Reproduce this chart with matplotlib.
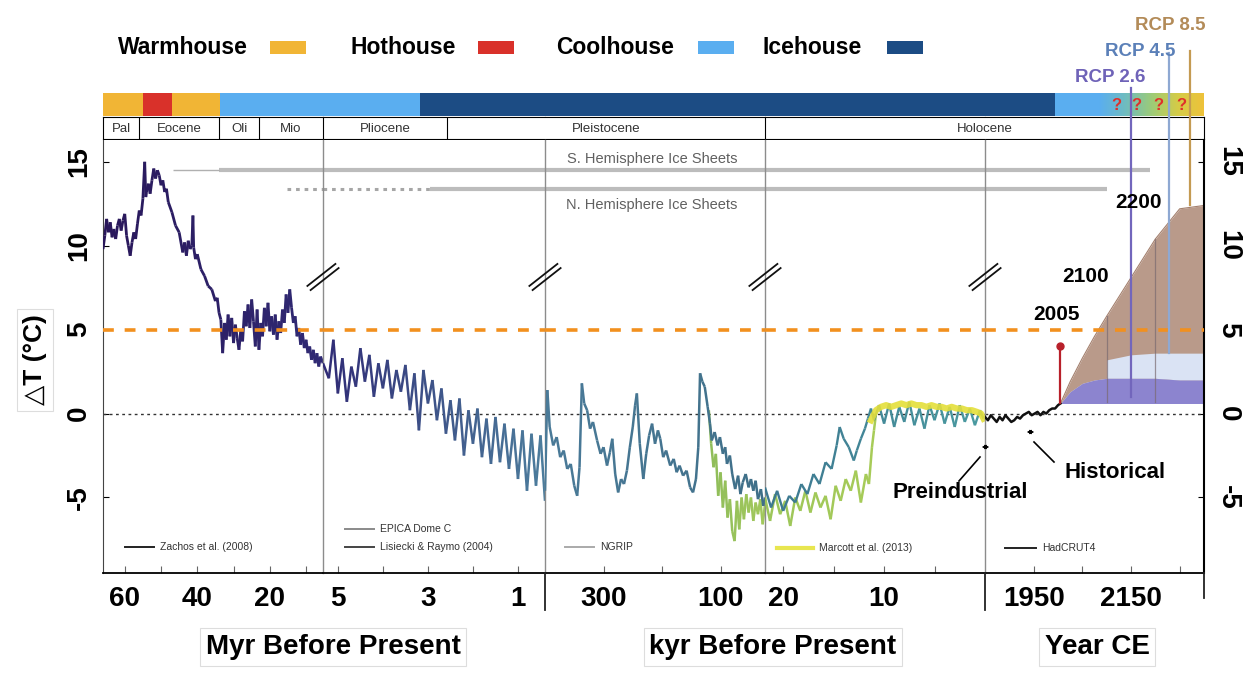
import numpy as np
import matplotlib
matplotlib.use('Agg')
import matplotlib.pyplot as plt
from matplotlib.collections import LineCollection
from matplotlib.colors import LinearSegmentedColormap
from matplotlib.lines import Line2D

plt.rcParams['font.family'] = ['Liberation Sans', 'DejaVu Sans']

# ---- data ----
# segment 1: Zachos et al. (2008), Myr before present
zachos_age = [66.0, 65.5, 65.0, 64.5, 64.0, 63.5, 63.0, 62.5, 62.0, 61.5,
              61.0, 60.5, 60.0, 59.5, 59.0, 58.5, 58.0, 57.5, 57.0, 56.5,
              56.0, 55.5, 55.0, 54.5, 54.2, 54.0, 53.5, 53.0, 52.5, 52.0,
              51.5, 51.0, 50.5, 50.0, 49.5, 49.0, 48.5, 48.0, 47.0, 46.0,
              45.0, 44.0, 43.5, 43.0, 42.5, 42.0, 41.5, 41.2, 41.0, 40.5,
              40.0, 39.0, 38.0, 37.0, 36.0, 35.0, 34.5, 34.0, 33.5, 33.0,
              32.5, 32.0, 31.5, 31.0, 30.5, 30.0, 29.5, 29.0, 28.5, 28.0,
              27.5, 27.0, 26.5, 26.0, 25.5, 25.0, 24.5, 24.0, 23.5, 23.0,
              22.5, 22.0, 21.5, 21.0, 20.5, 20.0, 19.5, 19.0, 18.5, 18.0,
              17.5, 17.0, 16.5, 16.0, 15.5, 15.0, 14.5, 14.0, 13.5, 13.0,
              12.5, 12.0, 11.5, 11.0, 10.5, 10.0, 9.5, 9.0, 8.5, 8.0,
              7.5, 7.0, 6.5, 6.0, 5.33]
zachos_temp = [9.8, 10.6, 11.6, 10.8, 11.4, 10.5, 11.0, 10.4, 11.2, 11.6,
               10.9, 11.5, 11.9, 10.6, 10.0, 9.4, 10.2, 10.8, 10.4, 11.3,
               12.1, 11.8, 12.8, 15.0, 12.9, 13.2, 13.7, 13.1, 13.9, 14.6,
               14.0, 14.5, 14.2, 13.6, 13.9, 13.2, 13.4, 12.6, 12.0, 11.2,
               10.8, 9.6, 10.2, 9.4, 10.3, 9.8, 10.0, 11.8, 9.9, 9.2,
               9.5, 8.6, 8.2, 7.6, 7.4, 6.7, 6.9, 6.0, 5.6, 3.6,
               5.4, 4.4, 5.9, 4.6, 5.7, 4.2, 5.3, 4.5, 3.8, 5.0,
               4.3, 6.1, 5.2, 6.5, 5.1, 6.8, 5.5, 4.0, 6.2, 3.8,
               5.4, 4.6, 6.3, 5.2, 6.6, 4.9, 5.8, 4.7, 5.9, 4.4,
               5.5, 4.8, 6.2, 5.4, 7.1, 6.0, 7.4, 6.3, 5.4, 5.8,
               4.6, 5.1, 4.1, 4.8, 3.9, 4.4, 3.6, 4.0, 3.2, 3.8,
               3.0, 3.6, 2.8, 3.4, 3.0]

# segment 2: Lisiecki & Raymo (2004), Myr before present
lr04_myr = [5.33, 5.2, 5.1, 5.0, 4.9, 4.8, 4.7, 4.6, 4.5, 4.4,
            4.3, 4.2, 4.1, 4.0, 3.9, 3.8, 3.7, 3.6, 3.5, 3.4,
            3.3, 3.2, 3.1, 3.0, 2.9, 2.8, 2.7, 2.6, 2.5, 2.4,
            2.3, 2.2, 2.1, 2.0, 1.9, 1.8, 1.7, 1.6, 1.5, 1.4,
            1.3, 1.2, 1.1, 1.0, 0.9, 0.8, 0.7, 0.6, 0.5, 0.4]
lr04_myr_temp = [3.0, 2.1, 4.4, 1.2, 3.3, 0.7, 2.8, 1.6, 3.9, 1.9,
                 3.5, 1.0, 3.0, 1.5, 3.2, 0.9, 2.6, 1.3, 2.9, 0.2,
                 2.4, -1.0, 2.6, 0.6, 2.0, -0.4, 1.5, -1.2, 0.8, -1.6,
                 0.9, -2.5, 0.2, -1.8, 0.3, -2.6, -0.3, -3.0, -0.2, -2.9,
                 -0.6, -3.3, -0.9, -3.9, -1.0, -4.6, -1.2, -4.3, -1.3, -5.2]

# segment 3: kyr before present
lr04_kyr = [400, 396, 392, 386, 380, 374, 368, 362, 356, 350,
            345, 341, 337, 333, 328, 323, 318, 311, 305, 300,
            294, 289, 285, 280, 275, 270, 265, 260, 255, 250,
            246, 243, 238, 232, 227, 222, 217, 212, 207, 203,
            198, 193, 186, 180, 175, 170, 164, 158, 152, 147,
            142, 138, 135, 131, 127, 122, 118, 115, 110, 105,
            101, 96, 92, 89, 84, 80, 75, 70, 66, 62,
            57, 52, 48, 44, 40, 36, 31, 27, 24]
lr04_kyr_temp = [-4.6, 1.4, -0.8, -1.9, -1.4, -2.6, -2.2, -3.3, -3.0, -4.3,
                 -4.9, -3.2, 1.8, 0.6, 0.2, -0.9, -0.5, -1.6, -2.4, -2.0,
                 -3.1, -2.3, -1.5, -3.6, -4.7, -3.9, -4.2, -3.4, -2.0, -0.8,
                 0.5, 1.2, -1.8, -3.9, -2.4, -1.3, -0.6, -1.8, -1.0, -1.5,
                 -2.6, -2.2, -3.1, -2.7, -3.5, -3.1, -3.7, -3.4, -4.4, -4.7,
                 -3.9, -2.0, 2.4, 1.9, 1.6, 0.4, -0.6, -1.6, -1.1, -1.9,
                 -1.4, -2.4, -2.0, -3.0, -2.5, -3.6, -4.5, -3.7, -4.8, -4.1,
                 -3.6, -4.4, -3.9, -4.6, -4.0, -5.1, -4.5, -5.5, -5.0]
epica_kyr = [120, 116, 112, 108, 104, 100, 96, 92, 88, 84,
             80, 76, 72, 68, 64, 60, 56, 52, 48, 44,
             40, 36, 32, 28, 24]
epica_temp = [0.2, -1.8, -3.2, -2.4, -4.9, -3.5, -5.6, -4.0, -6.2, -5.1,
              -7.0, -7.6, -5.2, -6.9, -5.0, -6.3, -4.8, -5.9, -5.0, -6.4,
              -5.3, -6.0, -5.1, -6.6, -5.4]

# segment 4: last 22 kyr
deglac_kyr = [21.8, 21.3, 20.8, 20.3, 19.8, 19.3, 18.8, 18.3, 17.8, 17.3,
              16.8, 16.3, 15.8, 15.3, 14.8, 14.3, 13.8, 13.3, 12.8, 12.3,
              11.8, 11.5, 11.2, 11.0, 10.8]
deglac_temp = [-5.0, -6.4, -4.8, -6.0, -5.2, -6.7, -5.0, -5.8, -4.6, -5.9,
               -4.7, -5.6, -4.9, -6.3, -4.3, -5.2, -3.9, -4.6, -3.4, -5.3,
               -3.6, -4.2, -2.0, -1.0, 0.0]
ngrip_kyr = [21.8, 21.2, 20.6, 20.0, 19.4, 18.8, 18.2, 17.6, 17.0, 16.4,
             15.8, 15.2, 14.7, 14.4, 14.0, 13.5, 13.0, 12.7, 12.3, 11.9,
             11.6, 11.3, 11.0, 10.5, 10.0, 9.5, 9.0, 8.5, 8.0, 7.5,
             7.0, 6.5, 6.0, 5.5, 5.0, 4.5, 4.0, 3.5, 3.0, 2.5,
             2.0, 1.5, 1.0, 0.5, 0.15]
ngrip_temp = [-4.4, -5.6, -4.6, -5.8, -4.9, -5.3, -4.2, -4.8, -3.6, -4.2,
              -2.9, -3.3, -1.9, -0.8, -1.5, -2.0, -2.8, -2.2, -1.5, -0.9,
              -0.3, 0.3, -0.4, 0.5, -0.6, 0.6, -0.8, 0.4, -0.5, 0.7,
              -0.7, 0.3, -0.9, 0.5, -0.4, 0.6, -0.6, 0.4, -0.8, 0.5,
              -0.5, 0.3, -0.7, 0.2, -0.3]
marcott_kyr = [11.3, 10.8, 10.3, 9.8, 9.3, 8.8, 8.3, 7.8, 7.3, 6.8,
               6.3, 5.8, 5.3, 4.8, 4.3, 3.8, 3.3, 2.8, 2.3, 1.8,
               1.3, 0.8, 0.4, 0.15]
marcott_temp = [-0.4, 0.2, 0.4, 0.5, 0.4, 0.5, 0.6, 0.5, 0.6, 0.5,
                0.5, 0.4, 0.5, 0.4, 0.4, 0.3, 0.4, 0.3, 0.3, 0.2,
                0.2, 0.1, 0.0, -0.3]

# segment 5: year CE
hadcrut_year = [1850, 1856, 1862, 1868, 1874, 1880, 1886, 1892, 1898, 1904,
                1910, 1916, 1922, 1928, 1934, 1940, 1946, 1952, 1958, 1964,
                1970, 1976, 1982, 1988, 1994, 2000, 2005]
hadcrut_temp = [-0.2, -0.4, -0.1, -0.3, -0.5, -0.2, -0.4, -0.1, -0.3, -0.5,
                -0.4, -0.2, -0.3, -0.1, 0.0, 0.1, -0.1, 0.0, 0.1, -0.1,
                0.1, 0.0, 0.2, 0.3, 0.3, 0.5, 0.6]
proj_year = [2005, 2025, 2050, 2075, 2100, 2150, 2200, 2250, 2300]
rcp85_hi = [0.6, 1.9, 3.3, 4.6, 5.8, 8.1, 10.4, 12.2, 12.4]
rcp26_hi = [0.6, 1.3, 1.8, 2.0, 2.1, 2.1, 2.1, 2.0, 2.0]
rcp26_lo = [0.6, 0.6, 0.6, 0.6, 0.6, 0.6, 0.6, 0.6, 0.6]
rcp45_year = [2100, 2150, 2200, 2250, 2300]
rcp45_hi = [3.2, 3.5, 3.6, 3.6, 3.6]
rcp45_lo = [2.1, 2.1, 2.1, 2.0, 2.0]
rcp_names = ['RCP 2.6', 'RCP 4.5', 'RCP 8.5']
rcp_mark_year = [2150, 2229, 2272]
rcp_mark_base = [1.0, 3.6, 12.4]
fan_mark_year = [2100, 2200]
marker_2005 = 4.0

# climate states (segment index, value) and epochs
state_names = ['Warmhouse', 'Hothouse', 'Warmhouse', 'Coolhouse', 'Icehouse', 'Coolhouse']
state_from = [(0, 66.0), (0, 55.0), (0, 47.0), (0, 33.7), (1, 3.17), (4, 1993)]
state_to = [(0, 55.0), (0, 47.0), (0, 33.7), (1, 3.17), (4, 1993), (4, 2085)]
question_years = [2119, 2160, 2207, 2254]
epoch_names = ['Pal', 'Eocene', 'Oli', 'Mio', 'Pliocene', 'Pleistocene', 'Holocene']
epoch_from = [(0, 66.0), (0, 56.0), (0, 33.9), (0, 23.0), (1, 5.33), (1, 2.58), (3, 21.8)]
epoch_to = [(0, 56.0), (0, 33.9), (0, 23.0), (1, 5.33), (1, 2.58), (3, 21.8), (4, 2300)]
ice_s = [((0, 46.7), (0, 34.0)), ((0, 34.0), (4, 2190))]
ice_n = [((0, 15.2), (1, 2.95)), ((1, 2.95), (4, 2100))]

seg_lims = [(66.0, 5.33), (5.33, 0.4), (400.0, 24.0), (21.8, 0.0), (1850.0, 2300.0)]
seg_ticks = [[60, 50, 40, 30, 20, 10], [5, 4, 3, 2, 1], [300, 200, 100], [20, 15, 10, 5],
             [1950, 2050, 2150, 2250]]
seg_ticklabels = [['60', '', '40', '', '20', ''], ['5', '', '3', '', '1'], ['300', '', '100'],
                  ['20', '', '10', ''], ['1950', '', '2150', '']]

state_colors = {'Warmhouse': '#f1b535', 'Hothouse': '#d9312a',
                'Coolhouse': '#5aaef0', 'Icehouse': '#1c4c84'}

# ---- layout ----
W, H = 1243, 677
fig = plt.figure(figsize=(12.43, 6.77), dpi=100)


def fx(p):
    return p / W


def fy(p):
    return 1 - p / H


edges = [103, 323, 545, 765, 985, 1204]
TOP, BOT = 140, 573


def across(a, b, draw):
    # call draw(k, lo, hi) for every segment between point a and point b
    for k in range(a[0], b[0] + 1):
        lo = a[1] if k == a[0] else seg_lims[k][0]
        hi = b[1] if k == b[0] else seg_lims[k][1]
        draw(k, lo, hi)


def to_pos(p):
    lo, hi = seg_lims[p[0]]
    return p[0] + (p[1] - lo) / (hi - lo)


def from_pos(q):
    k = min(int(q), 4)
    lo, hi = seg_lims[k]
    return k, lo + (q - k) * (hi - lo)


def grad_line(ax, x, y, c0, c1, lw=1.4, z=3):
    pts = np.column_stack([x, y])
    segs = np.stack([pts[:-1], pts[1:]], axis=1)
    cm = LinearSegmentedColormap.from_list('g', [c0, c1])
    lc = LineCollection(segs, colors=cm(np.linspace(0, 1, len(segs))), linewidths=lw, zorder=z)
    ax.add_collection(lc)


band_axes, epoch_axes, axes = [], [], []
for k in range(5):
    x0, w = fx(edges[k]), fx(edges[k + 1]) - fx(edges[k])
    bc = fig.add_axes([x0, fy(116), w, 23 / H])
    be = fig.add_axes([x0, fy(139), w, 22 / H])
    for b in (bc, be):
        b.set_xlim(seg_lims[k])
        b.set_ylim(0, 1)
        b.set_xticks([])
        b.set_yticks([])
        for s in b.spines.values():
            s.set_visible(False)
    for s in ('top', 'bottom'):
        be.spines[s].set_visible(True)
        be.spines[s].set_linewidth(0.8)
    band_axes.append(bc)
    epoch_axes.append(be)

# climate state band
for name, a, b in zip(state_names, state_from, state_to):
    across(a, b, lambda k, lo, hi, c=state_colors[name]:
           band_axes[k].axvspan(lo, hi, color=c, lw=0))
future_cmap = LinearSegmentedColormap.from_list(
    'fut', ['#5aaef0', '#6fbcc0', '#9ccb78', '#d4cc48', '#eec23a'])
band_axes[4].imshow(np.linspace(0, 1, 200)[None, :], extent=[2085, 2300, 0, 1],
                    aspect='auto', cmap=future_cmap)
band_axes[4].set_xlim(seg_lims[4])
for yr in question_years:
    band_axes[4].text(yr, 0.45, '?', color='#e0302a', fontsize=12, fontweight='bold',
                      ha='center', va='center')

# epochs
for name, a, b in zip(epoch_names, epoch_from, epoch_to):
    k, v = a
    if v == seg_lims[k][0]:
        epoch_axes[k].spines['left'].set_visible(True)
        epoch_axes[k].spines['left'].set_linewidth(0.8)
    else:
        epoch_axes[k].axvline(v, color='k', lw=0.8)
    kc, vc = from_pos((to_pos(a) + to_pos(b)) / 2)
    epoch_axes[kc].text(vc, 0.45, name, fontsize=9.5, color='#333333',
                        ha='center', va='center', clip_on=False)
epoch_axes[4].spines['right'].set_visible(True)
epoch_axes[4].spines['right'].set_linewidth(0.8)

# main panels
for k in range(5):
    x0, w = fx(edges[k]), fx(edges[k + 1]) - fx(edges[k])
    ax = fig.add_axes([x0, fy(BOT), w, (BOT - TOP) / H])
    ax.set_xlim(seg_lims[k])
    ax.set_ylim(-9.5, 16.3)
    ax.set_xticks(seg_ticks[k], seg_ticklabels[k], fontsize=20, fontweight='bold')
    ax.tick_params(axis='x', direction='in', length=5, width=0.8, color='#666666', pad=9)
    ax.spines['top'].set_visible(False)
    ax.spines['bottom'].set_linewidth(1.3)
    ax.spines['right'].set_visible(False)
    if k == 0:
        ax.spines['left'].set_color('#444444')
        ax.set_yticks([-5, 0, 5, 10, 15], ['-5', '0', '5', '10', '15'],
                      fontsize=20, fontweight='bold')
        ax.tick_params(axis='y', direction='in', length=4, labelrotation=90, pad=8)
        for t in ax.get_yticklabels():
            t.set_va('center')
    else:
        ax.spines['left'].set_color('#8c8c8c')
        ax.spines['left'].set_linewidth(1.0)
        ax.tick_params(axis='y', left=False, labelleft=False)
    if k == 4:
        ax.spines['right'].set_visible(True)
        ax.spines['right'].set_linewidth(1.5)
        ax.yaxis.tick_right()
        ax.set_yticks([-5, 0, 5, 10, 15], ['-5', '0', '5', '10', '15'],
                      fontsize=20, fontweight='bold')
        ax.tick_params(axis='y', direction='in', length=4, labelrotation=-90, pad=8,
                       right=True, labelright=True)
        for t in ax.get_yticklabels():
            t.set_va('center')
    ax.axhline(5, color='#f2901e', lw=2.6, ls=(0, (3, 3)), zorder=6)
    ax.axhline(0, color='#333333', lw=1.0, ls=(0, (2, 2.5)), zorder=2)
    axes.append(ax)

# ice sheet bars
for a, b in ice_s[:1]:
    across(a, b, lambda k, lo, hi: axes[k].hlines(14.5, lo, hi, color='#b0b0b0', lw=1.0))
for a, b in ice_s[1:]:
    across(a, b, lambda k, lo, hi: axes[k].hlines(14.5, lo, hi, color='#a6a6a6', lw=3.0, alpha=0.75))
for a, b in ice_n[:1]:
    across(a, b, lambda k, lo, hi: axes[k].hlines(13.4, lo, hi, color='#a6a6a6', lw=2.2,
                                                  linestyles=(0, (1.2, 1.6))))
for a, b in ice_n[1:]:
    across(a, b, lambda k, lo, hi: axes[k].hlines(13.4, lo, hi, color='#a6a6a6', lw=3.0, alpha=0.75))
fig.text(fx(652), fy(159), 'S. Hemisphere Ice Sheets', fontsize=10.5, color='#606060',
         ha='center', va='center')
fig.text(fx(652), fy(205), 'N. Hemisphere Ice Sheets', fontsize=10.5, color='#606060',
         ha='center', va='center')

# temperature records
grad_line(axes[0], zachos_age, zachos_temp, '#29175a', '#302a74', lw=2.0)
grad_line(axes[1], lr04_myr, lr04_myr_temp, '#302c76', '#4c7c9c', lw=1.8)
grad_line(axes[2], epica_kyr, epica_temp, '#8fbd5a', '#a2c85c', lw=1.8)
grad_line(axes[2], lr04_kyr, lr04_kyr_temp, '#4a7a98', '#3f6f88', lw=1.8)
grad_line(axes[3], deglac_kyr, deglac_temp, '#9cc65a', '#a8cc58', lw=1.8)
grad_line(axes[3], ngrip_kyr, ngrip_temp, '#3d7890', '#4a9aa0', lw=1.7)
axes[3].plot(marcott_kyr, marcott_temp, color='#e4df3a', lw=4.5, alpha=0.9, zorder=4)

ax5 = axes[4]
ax5.plot(hadcrut_year, hadcrut_temp, color='#111111', lw=1.8, zorder=5)
ax5.fill_between(proj_year, rcp26_hi, rcp85_hi, color='#b99a8a', lw=0, zorder=2)
ax5.fill_between(rcp45_year, rcp45_lo, rcp45_hi, color='#dae3f4', lw=0, zorder=2.1)
ax5.fill_between(proj_year, rcp26_lo, rcp26_hi, color='#6f66c4', alpha=0.8, lw=0, zorder=2.2)
ax5.plot(proj_year, rcp85_hi, color='#a4806e', lw=0.8, zorder=2.3)
for yr, top in zip(fan_mark_year, [5.8, 10.4]):
    ax5.plot([yr, yr], [0.7, top], color='#7a6a70', lw=0.9, alpha=0.7, zorder=2.4)
ax5.plot([2005, 2005], [0.6, marker_2005], color='#b8202a', lw=1.6, zorder=6)
ax5.plot([2005], [marker_2005], 'o', color='#b8202a', ms=5, zorder=6)

rcp_colors = ['#7266bc', '#8ea8d2', '#c49a52']
rcp_text_colors = ['#6f63b8', '#5b80b8', '#b38b58']
rcp_tops = [19.4, 21.5, 21.6]
for name, yr, base, top, c in zip(rcp_names, rcp_mark_year, rcp_mark_base, rcp_tops, rcp_colors):
    ax5.plot([yr, yr], [base, top], color=c, lw=1.6, clip_on=False, zorder=7)
for name, (px, py), c in zip(rcp_names, [(1110, 78), (1140, 51), (1170, 25)], rcp_text_colors):
    fig.text(fx(px), fy(py), name, color=c, fontsize=13.5, fontweight='bold',
             ha='center', va='center')

for txt, (px, py) in zip(['2005', '2100', '2200'], [(1056, 315), (1086, 277), (1139, 203)]):
    fig.text(fx(px), fy(py), txt, fontsize=15, fontweight='bold', ha='center', va='center')

# segment dividers below the axis and break marks
for px, y2 in [(545, 610), (985, 610), (1204, 598)]:
    fig.add_artist(Line2D([fx(px), fx(px)], [fy(BOT), fy(y2)], color='#222222', lw=1.3))
for cx in edges[1:5]:
    cy = 277
    for off in (-2.6, 2.6):
        dx, dy = off * 0.62, off * 0.79
        fig.add_artist(Line2D([fx(cx - 14 + dx), fx(cx + 14 + dx)],
                              [fy(cy + 11 + dy), fy(cy - 11 + dy)],
                              color='#111111', lw=1.3))

# preindustrial / historical annotations
for (x1, x2, yy) in [(979, 992, 447), (1024, 1037, 432)]:
    fig.add_artist(matplotlib.patches.FancyArrowPatch(
        (fx(x1), fy(yy)), (fx(x2), fy(yy)), transform=fig.transFigure,
        arrowstyle='<|-|>', mutation_scale=6, lw=0.8, color='k'))
fig.add_artist(Line2D([fx(959), fx(980)], [fy(481), fy(457)], color='k', lw=1.2))
fig.add_artist(Line2D([fx(1034), fx(1054)], [fy(442), fy(462)], color='k', lw=1.2))
fig.text(fx(960), fy(492), 'Preindustrial', fontsize=16, fontweight='bold', ha='center', va='center')
fig.text(fx(1115), fy(473), 'Historical', fontsize=16, fontweight='bold', ha='center', va='center')

# record legend at the bottom
legend_names = ['Zachos et al. (2008)', 'EPICA Dome C', 'Lisiecki & Raymo (2004)', 'NGRIP',
                'Marcott et al. (2013)', 'HadCRUT4']
legend_colors = ['#222222', '#8a8a8a', '#444444', '#aaaaaa', '#e8e650', '#222222']
legend_pos = [(125, 154, 547), (345, 374, 529), (345, 374, 547), (565, 594, 547),
              (777, 813, 548), (1005, 1036, 548)]
for name, c, (x1, x2, yy) in zip(legend_names, legend_colors, legend_pos):
    fig.add_artist(Line2D([fx(x1), fx(x2)], [fy(yy), fy(yy)], color=c,
                          lw=3 if c == '#e8e650' else 1.4))
    fig.text(fx(x2 + 6), fy(yy), name, fontsize=7.5, color='#333333', va='center')

# climate state legend
for name, (tx, sx) in zip(['Warmhouse', 'Hothouse', 'Coolhouse', 'Icehouse'],
                          [(118, 270), (350, 478), (556, 698), (763, 887)]):
    fig.text(fx(tx), fy(48), name, fontsize=16.5, fontweight='bold', va='center')
    fig.add_artist(matplotlib.patches.Rectangle((fx(sx), fy(54)), fx(36), 13 / H,
                                                transform=fig.transFigure,
                                                color=state_colors[name], lw=0))

# axis titles
box = dict(facecolor='white', edgecolor='#dddddd', lw=0.8, pad=4)
fig.text(fx(35), fy(360), '△T (°C)', rotation=90, fontsize=19, fontweight='bold',
         ha='center', va='center', bbox=box)
fig.text(fx(333), fy(647), 'Myr Before Present', fontsize=20, fontweight='bold',
         ha='center', va='center', bbox=box)
fig.text(fx(773), fy(647), 'kyr Before Present', fontsize=20, fontweight='bold',
         ha='center', va='center', bbox=box)
fig.text(fx(1097), fy(647), 'Year CE', fontsize=20, fontweight='bold',
         ha='center', va='center', bbox=box)

fig.savefig('out.png', dpi=100, facecolor='white')
